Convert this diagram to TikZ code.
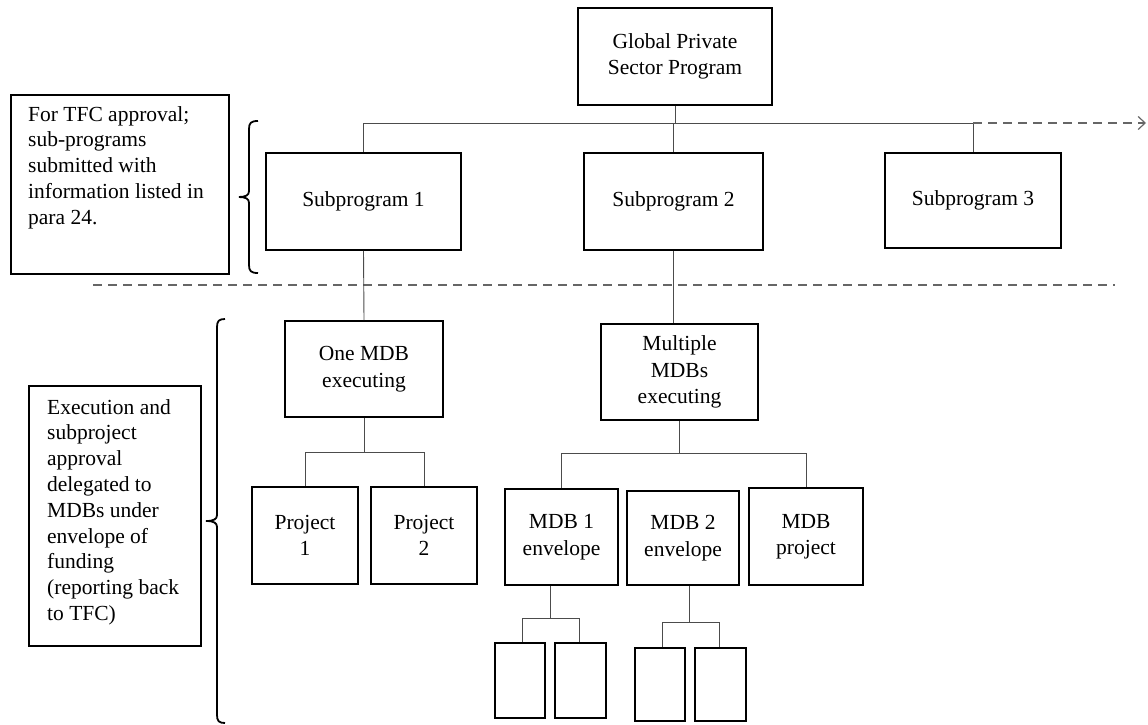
\documentclass[tikz,border=0pt]{standalone}
\usepackage{fontspec}
\setmainfont{Liberation Serif}
\usetikzlibrary{arrows.meta}
\begin{document}
\begin{tikzpicture}[x=1pt,y=-1pt,
  box/.style={draw=black,line width=1.6pt,align=center,inner sep=2pt,
    font=\fontsize{21.5}{26.5}\selectfont},
  sidebox/.style={draw=black,line width=1.8pt,anchor=north west,inner sep=0pt},
  sidetext/.style={anchor=north west,align=left,inner sep=0pt,
    font=\fontsize{21.5}{25.8}\selectfont},
  conn/.style={draw=black!70,line width=0.9pt},
  brace/.style={draw=black,line width=1.8pt},
  sep/.style={draw=black!60,line width=1.3pt,dash pattern=on 9pt off 6pt}
]
\useasboundingbox (0,0) rectangle (1148,725);

% top level
\node[box,minimum width=194pt,minimum height=97pt] (global) at (675,56.5) {Global Private\\Sector Program};
\node[box,minimum width=195pt,minimum height=97pt] (sub1) at (363.5,201.5) {Subprogram 1};
\node[box,minimum width=179pt,minimum height=97pt] (sub2) at (673.5,201.5) {Subprogram 2};
\node[box,minimum width=176pt,minimum height=95pt] (sub3) at (973,200.5) {Subprogram 3};

\coordinate (bus0) at (0,123);
\coordinate (arrowend) at (1146,123);
\draw[conn] (global.south) -- (global.south |- bus0);
\draw[conn] (sub1.north) -- (sub1.north |- bus0) -- (sub3.north |- bus0) -- (sub3.north);
\draw[conn] (sub2.north) -- (sub2.north |- bus0);
\draw[sep,-{Straight Barb[length=7pt,width=13pt,line width=1.2pt]}] (sub3.north |- bus0) -- (arrowend);

% left note 1
\node[sidebox,minimum width=218pt,minimum height=179pt] (tfcbox) at (10,94) {};
\node[sidetext] (tfctext) at (28,106) {For TFC approval;\\sub-programs\\submitted with\\information listed in\\para 24.};
\draw[brace] (258,121) .. controls (251,121) and (249,123) .. (249,129) -- (249,191)
  .. controls (249,195) and (246,197) .. (239,197)
  .. controls (246,197) and (249,199) .. (249,203) -- (249,265)
  .. controls (249,271) and (251,273) .. (258,273);

% separator
\coordinate (sepL) at (93,285);
\coordinate (sepR) at (1115,285);
\draw[sep] (sepL) -- (sepR);

% second level
\node[box,minimum width=158pt,minimum height=96pt] (onemdb) at (364,369) {One MDB\\executing};
\node[box,minimum width=157pt,minimum height=96pt] (multi) at (679.5,372) {Multiple\\MDBs\\executing};
\draw[conn] (sub1.south) -- (onemdb.north);
\draw[conn] (sub2.south) -- (sub2.south |- multi.north);

\node[box,minimum width=106pt,minimum height=97pt] (proj1) at (305,535.5) {Project\\1};
\node[box,minimum width=106pt,minimum height=97pt] (proj2) at (424,535.5) {Project\\2};
\coordinate (bus1) at (0,452);
\draw[conn] (onemdb.south) -- (onemdb.south |- bus1);
\draw[conn] (proj1.north) -- (proj1.north |- bus1) -- (proj2.north |- bus1) -- (proj2.north);

\node[box,minimum width=113pt,minimum height=96pt] (mdb1) at (561.5,537) {MDB 1\\envelope};
\node[box,minimum width=112pt,minimum height=94pt] (mdb2) at (683,538) {MDB 2\\envelope};
\node[box,minimum width=114pt,minimum height=97pt] (mdbp) at (806,536.5) {MDB\\project};
\coordinate (bus2) at (0,453);
\draw[conn] (multi.south) -- (multi.south |- bus2);
\draw[conn] (mdb1.north) -- (mdb1.north |- bus2) -- (mdbp.north |- bus2) -- (mdbp.north);

% third level
\node[box,minimum width=50pt,minimum height=75pt] (s1) at (520,680.5) {};
\node[box,minimum width=51pt,minimum height=75pt] (s2) at (580.5,680.5) {};
\node[box,minimum width=50pt,minimum height=73pt] (s3) at (660,684.5) {};
\node[box,minimum width=51pt,minimum height=73pt] (s4) at (720.5,684.5) {};
\coordinate (bus3) at (550,618);
\coordinate (bus4) at (689,622);
\draw[conn] (mdb1.south -| bus3) -- (bus3);
\draw[conn] (s1.north -| 522,0) -- (bus3 -| 522,0) -- (bus3 -| 579,0) -- (s2.north -| 579,0);
\draw[conn] (mdb2.south -| bus4) -- (bus4);
\draw[conn] (s3.north -| 662,0) -- (bus4 -| 662,0) -- (bus4 -| 719,0) -- (s4.north -| 719,0);

% left note 2
\node[sidebox,minimum width=172pt,minimum height=260pt] (execbox) at (28,385) {};
\node[sidetext] (exectext) at (47,399) {Execution and\\subproject\\approval\\delegated to\\MDBs under\\envelope of\\funding\\(reporting back\\to TFC)};
\draw[brace] (225,319) .. controls (219,319) and (217,321) .. (217,327) -- (217,515)
  .. controls (217,519) and (214,521) .. (206,521)
  .. controls (214,521) and (217,523) .. (217,527) -- (217,715)
  .. controls (217,721) and (219,723) .. (225,723);
\end{tikzpicture}
\end{document}
